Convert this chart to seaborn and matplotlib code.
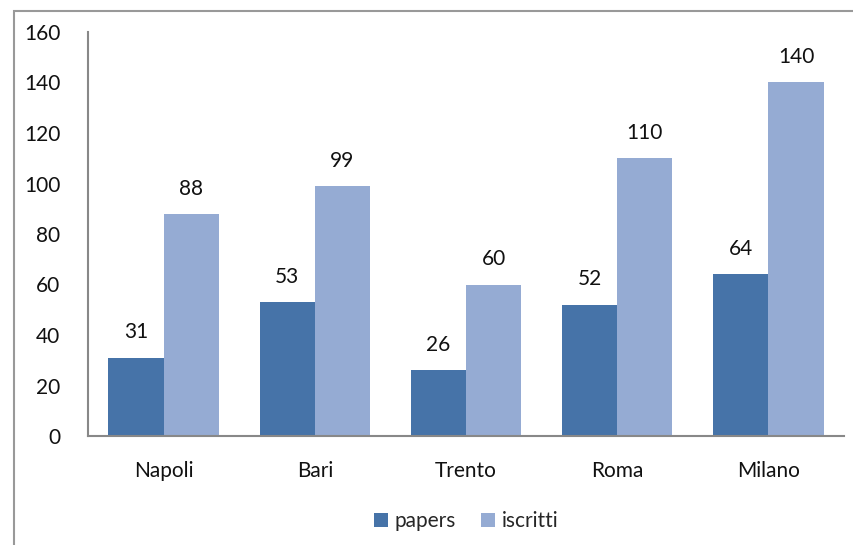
import pandas as pd
import matplotlib.pyplot as plt
import seaborn as sns
from matplotlib.patches import Rectangle

# Data
cities = ['Napoli', 'Bari', 'Trento', 'Roma', 'Milano']
papers = [31, 53, 26, 52, 64]
iscritti = [88, 99, 60, 110, 140]

df = pd.DataFrame({
    'city': cities * 2,
    'value': papers + iscritti,
    'serie': ['papers'] * len(cities) + ['iscritti'] * len(cities),
})

sns.set_style('white')
plt.rcParams['font.family'] = ['Lato', 'DejaVu Sans']
plt.rcParams['font.size'] = 15

fig = plt.figure(figsize=(8.54, 5.45), dpi=100)
ax = fig.add_axes([88 / 854, 1 - 436 / 545, (844 - 88) / 854, (436 - 32) / 545])

sns.barplot(data=df, x='city', y='value', hue='serie',
            palette={'papers': '#4673A8', 'iscritti': '#95ABD3'},
            width=0.73, saturation=1, ax=ax, linewidth=0)

for c in ax.containers:
    ax.bar_label(c, padding=11, fontsize=15, color='#111111')

ax.set_ylim(0, 160)
ax.set_yticks(range(0, 161, 20))
ax.set_xlim(-0.5, 4.5)
ax.set_xlabel('')
ax.set_ylabel('')
ax.tick_params(axis='both', length=0, labelsize=15, colors='#111111')
ax.tick_params(axis='y', pad=20)
ax.tick_params(axis='x', pad=18)
for s in ['top', 'right']:
    ax.spines[s].set_visible(False)
for s in ['left', 'bottom']:
    ax.spines[s].set_color('#888888')
    ax.spines[s].set_linewidth(1.5)

ax.legend(loc='upper center', bbox_to_anchor=(0.5, -0.14), ncol=2, frameon=False,
          handlelength=0.7, handleheight=0.7, handletextpad=0.3, columnspacing=1.2,
          fontsize=15)

# chart border (only top and left visible in the crop)
fig.patches.append(Rectangle((14 / 854, -0.2), 1.2, 1 - 11 / 545 + 0.2,
                             transform=fig.transFigure, fill=False,
                             edgecolor='#999999', linewidth=1.5))

fig.savefig('out.png', dpi=100)
